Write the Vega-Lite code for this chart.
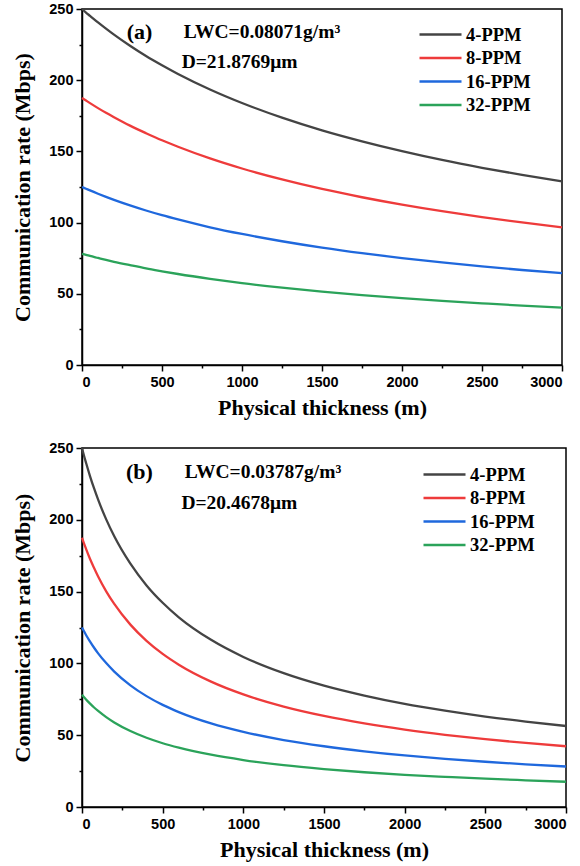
{
  "$schema": "https://vega.github.io/schema/vega-lite/v6.json",
  "padding": {"left": 11, "top": 0, "right": 0, "bottom": 0},
  "background": "white",
  "spacing": 19,
  "resolve": {"legend": {"color": "independent"}, "scale": {"color": "independent"}},
  "config": {
    "view": {"stroke": "black", "strokeWidth": 1.5},
    "axis": {
      "domainColor": "black", "domainWidth": 1.5, "tickColor": "black", "tickWidth": 1.5,
      "grid": false, "labelFont": "Liberation Sans", "labelFontWeight": "bold", "labelFontSize": 14.5,
      "labelColor": "black", "titleFont": "Liberation Serif", "titleFontWeight": "bold",
      "titleFontSize": 22, "titleColor": "black", "format": "d"
    },
    "legend": {
      "orient": "none", "symbolType": "M-2,0H2", "symbolSize": 441, "symbolFillColor": "transparent",
      "symbolStrokeWidth": 2.5, "labelFont": "Liberation Serif", "labelFontWeight": "bold",
      "labelFontSize": 18.5, "labelColor": "black", "labelOffset": 13.5, "rowPadding": 1.5, "padding": 0
    },
    "text": {"font": "Liberation Serif", "fontWeight": "bold", "fontSize": 19.5, "color": "black", "align": "left", "baseline": "middle"}
  },
  "datasets": {
    "a": [
      {"thickness": 0, "rate": 250, "scheme": "4-PPM"}, {"thickness": 25, "rate": 247.5, "scheme": "4-PPM"}, {"thickness": 50, "rate": 245.2, "scheme": "4-PPM"}, {"thickness": 100, "rate": 240.6, "scheme": "4-PPM"}, {"thickness": 150, "rate": 236.2, "scheme": "4-PPM"}, {"thickness": 200, "rate": 232.0, "scheme": "4-PPM"}, {"thickness": 300, "rate": 224.2, "scheme": "4-PPM"}, {"thickness": 400, "rate": 217.0, "scheme": "4-PPM"}, {"thickness": 500, "rate": 210.5, "scheme": "4-PPM"}, {"thickness": 600, "rate": 204.4, "scheme": "4-PPM"}, {"thickness": 800, "rate": 193.5, "scheme": "4-PPM"}, {"thickness": 1000, "rate": 184.0, "scheme": "4-PPM"}, {"thickness": 1250, "rate": 173.7, "scheme": "4-PPM"}, {"thickness": 1500, "rate": 164.8, "scheme": "4-PPM"}, {"thickness": 1750, "rate": 157.1, "scheme": "4-PPM"}, {"thickness": 2000, "rate": 150.2, "scheme": "4-PPM"}, {"thickness": 2250, "rate": 144.0, "scheme": "4-PPM"}, {"thickness": 2500, "rate": 138.5, "scheme": "4-PPM"}, {"thickness": 2750, "rate": 133.5, "scheme": "4-PPM"}, {"thickness": 3000, "rate": 128.9, "scheme": "4-PPM"},
      {"thickness": 0, "rate": 187.5, "scheme": "8-PPM"}, {"thickness": 25, "rate": 185.7, "scheme": "8-PPM"}, {"thickness": 50, "rate": 183.9, "scheme": "8-PPM"}, {"thickness": 100, "rate": 180.4, "scheme": "8-PPM"}, {"thickness": 150, "rate": 177.1, "scheme": "8-PPM"}, {"thickness": 200, "rate": 174.0, "scheme": "8-PPM"}, {"thickness": 300, "rate": 168.1, "scheme": "8-PPM"}, {"thickness": 400, "rate": 162.8, "scheme": "8-PPM"}, {"thickness": 500, "rate": 157.8, "scheme": "8-PPM"}, {"thickness": 600, "rate": 153.3, "scheme": "8-PPM"}, {"thickness": 800, "rate": 145.1, "scheme": "8-PPM"}, {"thickness": 1000, "rate": 138.0, "scheme": "8-PPM"}, {"thickness": 1250, "rate": 130.3, "scheme": "8-PPM"}, {"thickness": 1500, "rate": 123.6, "scheme": "8-PPM"}, {"thickness": 1750, "rate": 117.8, "scheme": "8-PPM"}, {"thickness": 2000, "rate": 112.6, "scheme": "8-PPM"}, {"thickness": 2250, "rate": 108.0, "scheme": "8-PPM"}, {"thickness": 2500, "rate": 103.9, "scheme": "8-PPM"}, {"thickness": 2750, "rate": 100.1, "scheme": "8-PPM"}, {"thickness": 3000, "rate": 96.7, "scheme": "8-PPM"},
      {"thickness": 0, "rate": 125, "scheme": "16-PPM"}, {"thickness": 25, "rate": 123.8, "scheme": "16-PPM"}, {"thickness": 50, "rate": 122.6, "scheme": "16-PPM"}, {"thickness": 100, "rate": 120.3, "scheme": "16-PPM"}, {"thickness": 150, "rate": 118.1, "scheme": "16-PPM"}, {"thickness": 200, "rate": 116.0, "scheme": "16-PPM"}, {"thickness": 300, "rate": 112.1, "scheme": "16-PPM"}, {"thickness": 400, "rate": 108.5, "scheme": "16-PPM"}, {"thickness": 500, "rate": 105.2, "scheme": "16-PPM"}, {"thickness": 600, "rate": 102.2, "scheme": "16-PPM"}, {"thickness": 800, "rate": 96.7, "scheme": "16-PPM"}, {"thickness": 1000, "rate": 92.0, "scheme": "16-PPM"}, {"thickness": 1250, "rate": 86.9, "scheme": "16-PPM"}, {"thickness": 1500, "rate": 82.4, "scheme": "16-PPM"}, {"thickness": 1750, "rate": 78.5, "scheme": "16-PPM"}, {"thickness": 2000, "rate": 75.1, "scheme": "16-PPM"}, {"thickness": 2250, "rate": 72.0, "scheme": "16-PPM"}, {"thickness": 2500, "rate": 69.2, "scheme": "16-PPM"}, {"thickness": 2750, "rate": 66.7, "scheme": "16-PPM"}, {"thickness": 3000, "rate": 64.5, "scheme": "16-PPM"},
      {"thickness": 0, "rate": 78.1, "scheme": "32-PPM"}, {"thickness": 25, "rate": 77.4, "scheme": "32-PPM"}, {"thickness": 50, "rate": 76.6, "scheme": "32-PPM"}, {"thickness": 100, "rate": 75.2, "scheme": "32-PPM"}, {"thickness": 150, "rate": 73.8, "scheme": "32-PPM"}, {"thickness": 200, "rate": 72.5, "scheme": "32-PPM"}, {"thickness": 300, "rate": 70.1, "scheme": "32-PPM"}, {"thickness": 400, "rate": 67.8, "scheme": "32-PPM"}, {"thickness": 500, "rate": 65.8, "scheme": "32-PPM"}, {"thickness": 600, "rate": 63.9, "scheme": "32-PPM"}, {"thickness": 800, "rate": 60.5, "scheme": "32-PPM"}, {"thickness": 1000, "rate": 57.5, "scheme": "32-PPM"}, {"thickness": 1250, "rate": 54.3, "scheme": "32-PPM"}, {"thickness": 1500, "rate": 51.5, "scheme": "32-PPM"}, {"thickness": 1750, "rate": 49.1, "scheme": "32-PPM"}, {"thickness": 2000, "rate": 46.9, "scheme": "32-PPM"}, {"thickness": 2250, "rate": 45.0, "scheme": "32-PPM"}, {"thickness": 2500, "rate": 43.3, "scheme": "32-PPM"}, {"thickness": 2750, "rate": 41.7, "scheme": "32-PPM"}, {"thickness": 3000, "rate": 40.3, "scheme": "32-PPM"}
    ],
    "b": [
      {"thickness": 0, "rate": 250, "scheme": "4-PPM"}, {"thickness": 10, "rate": 245.7, "scheme": "4-PPM"}, {"thickness": 25, "rate": 239.7, "scheme": "4-PPM"}, {"thickness": 50, "rate": 230.3, "scheme": "4-PPM"}, {"thickness": 75, "rate": 221.8, "scheme": "4-PPM"}, {"thickness": 100, "rate": 214.0, "scheme": "4-PPM"}, {"thickness": 150, "rate": 200.3, "scheme": "4-PPM"}, {"thickness": 200, "rate": 188.5, "scheme": "4-PPM"}, {"thickness": 300, "rate": 169.4, "scheme": "4-PPM"}, {"thickness": 400, "rate": 154.3, "scheme": "4-PPM"}, {"thickness": 500, "rate": 142.2, "scheme": "4-PPM"}, {"thickness": 600, "rate": 132.1, "scheme": "4-PPM"}, {"thickness": 800, "rate": 116.4, "scheme": "4-PPM"}, {"thickness": 1000, "rate": 104.5, "scheme": "4-PPM"}, {"thickness": 1250, "rate": 93.2, "scheme": "4-PPM"}, {"thickness": 1500, "rate": 84.5, "scheme": "4-PPM"}, {"thickness": 1750, "rate": 77.6, "scheme": "4-PPM"}, {"thickness": 2000, "rate": 71.8, "scheme": "4-PPM"}, {"thickness": 2250, "rate": 67.1, "scheme": "4-PPM"}, {"thickness": 2500, "rate": 63.0, "scheme": "4-PPM"}, {"thickness": 2750, "rate": 59.5, "scheme": "4-PPM"}, {"thickness": 3000, "rate": 56.4, "scheme": "4-PPM"},
      {"thickness": 0, "rate": 187.5, "scheme": "8-PPM"}, {"thickness": 10, "rate": 184.3, "scheme": "8-PPM"}, {"thickness": 25, "rate": 179.8, "scheme": "8-PPM"}, {"thickness": 50, "rate": 172.7, "scheme": "8-PPM"}, {"thickness": 75, "rate": 166.4, "scheme": "8-PPM"}, {"thickness": 100, "rate": 160.5, "scheme": "8-PPM"}, {"thickness": 150, "rate": 150.2, "scheme": "8-PPM"}, {"thickness": 200, "rate": 141.4, "scheme": "8-PPM"}, {"thickness": 300, "rate": 127.0, "scheme": "8-PPM"}, {"thickness": 400, "rate": 115.7, "scheme": "8-PPM"}, {"thickness": 500, "rate": 106.6, "scheme": "8-PPM"}, {"thickness": 600, "rate": 99.1, "scheme": "8-PPM"}, {"thickness": 800, "rate": 87.3, "scheme": "8-PPM"}, {"thickness": 1000, "rate": 78.4, "scheme": "8-PPM"}, {"thickness": 1250, "rate": 69.9, "scheme": "8-PPM"}, {"thickness": 1500, "rate": 63.4, "scheme": "8-PPM"}, {"thickness": 1750, "rate": 58.2, "scheme": "8-PPM"}, {"thickness": 2000, "rate": 53.9, "scheme": "8-PPM"}, {"thickness": 2250, "rate": 50.3, "scheme": "8-PPM"}, {"thickness": 2500, "rate": 47.2, "scheme": "8-PPM"}, {"thickness": 2750, "rate": 44.6, "scheme": "8-PPM"}, {"thickness": 3000, "rate": 42.3, "scheme": "8-PPM"},
      {"thickness": 0, "rate": 125, "scheme": "16-PPM"}, {"thickness": 10, "rate": 122.9, "scheme": "16-PPM"}, {"thickness": 25, "rate": 119.8, "scheme": "16-PPM"}, {"thickness": 50, "rate": 115.2, "scheme": "16-PPM"}, {"thickness": 75, "rate": 110.9, "scheme": "16-PPM"}, {"thickness": 100, "rate": 107.0, "scheme": "16-PPM"}, {"thickness": 150, "rate": 100.2, "scheme": "16-PPM"}, {"thickness": 200, "rate": 94.3, "scheme": "16-PPM"}, {"thickness": 300, "rate": 84.7, "scheme": "16-PPM"}, {"thickness": 400, "rate": 77.2, "scheme": "16-PPM"}, {"thickness": 500, "rate": 71.1, "scheme": "16-PPM"}, {"thickness": 600, "rate": 66.1, "scheme": "16-PPM"}, {"thickness": 800, "rate": 58.2, "scheme": "16-PPM"}, {"thickness": 1000, "rate": 52.3, "scheme": "16-PPM"}, {"thickness": 1250, "rate": 46.6, "scheme": "16-PPM"}, {"thickness": 1500, "rate": 42.3, "scheme": "16-PPM"}, {"thickness": 1750, "rate": 38.8, "scheme": "16-PPM"}, {"thickness": 2000, "rate": 35.9, "scheme": "16-PPM"}, {"thickness": 2250, "rate": 33.5, "scheme": "16-PPM"}, {"thickness": 2500, "rate": 31.5, "scheme": "16-PPM"}, {"thickness": 2750, "rate": 29.7, "scheme": "16-PPM"}, {"thickness": 3000, "rate": 28.2, "scheme": "16-PPM"},
      {"thickness": 0, "rate": 78.1, "scheme": "32-PPM"}, {"thickness": 10, "rate": 76.8, "scheme": "32-PPM"}, {"thickness": 25, "rate": 74.9, "scheme": "32-PPM"}, {"thickness": 50, "rate": 72.0, "scheme": "32-PPM"}, {"thickness": 75, "rate": 69.3, "scheme": "32-PPM"}, {"thickness": 100, "rate": 66.9, "scheme": "32-PPM"}, {"thickness": 150, "rate": 62.6, "scheme": "32-PPM"}, {"thickness": 200, "rate": 58.9, "scheme": "32-PPM"}, {"thickness": 300, "rate": 52.9, "scheme": "32-PPM"}, {"thickness": 400, "rate": 48.2, "scheme": "32-PPM"}, {"thickness": 500, "rate": 44.4, "scheme": "32-PPM"}, {"thickness": 600, "rate": 41.3, "scheme": "32-PPM"}, {"thickness": 800, "rate": 36.4, "scheme": "32-PPM"}, {"thickness": 1000, "rate": 32.7, "scheme": "32-PPM"}, {"thickness": 1250, "rate": 29.1, "scheme": "32-PPM"}, {"thickness": 1500, "rate": 26.4, "scheme": "32-PPM"}, {"thickness": 1750, "rate": 24.2, "scheme": "32-PPM"}, {"thickness": 2000, "rate": 22.4, "scheme": "32-PPM"}, {"thickness": 2250, "rate": 21.0, "scheme": "32-PPM"}, {"thickness": 2500, "rate": 19.7, "scheme": "32-PPM"}, {"thickness": 2750, "rate": 18.6, "scheme": "32-PPM"}, {"thickness": 3000, "rate": 17.6, "scheme": "32-PPM"}
    ]
  },
  "vconcat": [
    {
      "width": 480, "height": 356,
      "resolve": {"axis": {"x": "independent", "y": "independent"}},
      "layer": [
        {
          "data": {"name": "a"},
          "mark": {"type": "line", "strokeWidth": 2.3, "interpolate": "monotone"},
          "encoding": {
            "x": {"field": "thickness", "type": "quantitative", "scale": {"domain": [0, 3000], "nice": false},
                  "axis": {"orient": "bottom", "values": [0, 500, 1000, 1500, 2000, 2500, 3000], "tickSize": 6, "labelPadding": 4, "title": "Physical thickness (m)", "titlePadding": 9}},
            "y": {"field": "rate", "type": "quantitative", "scale": {"domain": [0, 250], "nice": false},
                  "axis": {"orient": "left", "values": [0, 50, 100, 150, 200, 250], "tickSize": 6, "labelPadding": 3, "title": "Communication rate (Mbps)", "titlePadding": 14}},
            "color": {"field": "scheme", "type": "nominal",
                      "scale": {"domain": ["4-PPM", "8-PPM", "16-PPM", "32-PPM"], "range": ["#444444", "#EE3B3B", "#1F68DD", "#2BA35A"]},
                      "legend": {"title": null, "legendX": 346.5, "legendY": 13.5}}
          }
        },
        {
          "data": {"values": [{}]},
          "mark": {"type": "text", "fontSize": 22},
          "encoding": {
            "x": {"datum": 279, "type": "quantitative", "axis": {"orient": "bottom", "values": [250, 750, 1250, 1750, 2250, 2750], "labels": false, "tickSize": 3, "domain": false, "title": null}},
            "y": {"datum": 233.7, "type": "quantitative", "axis": {"orient": "left", "values": [25, 75, 125, 175, 225], "labels": false, "tickSize": 3, "domain": false, "title": null}},
            "text": {"value": "(a)"}
          }
        },
        {
          "data": {"values": [{}]},
          "mark": {"type": "text"},
          "encoding": {
            "x": {"datum": 636, "type": "quantitative", "axis": null},
            "y": {"datum": 233.7, "type": "quantitative", "axis": null},
            "text": {"value": "LWC=0.08071g/m³"}
          }
        },
        {
          "data": {"values": [{}]},
          "mark": {"type": "text"},
          "encoding": {
            "x": {"datum": 623, "type": "quantitative", "axis": null},
            "y": {"datum": 212.6, "type": "quantitative", "axis": null},
            "text": {"value": "D=21.8769μm"}
          }
        }
      ]
    },
    {
      "width": 484, "height": 359,
      "resolve": {"axis": {"x": "independent", "y": "independent"}},
      "layer": [
        {
          "data": {"name": "b"},
          "mark": {"type": "line", "strokeWidth": 2.3, "interpolate": "monotone"},
          "encoding": {
            "x": {"field": "thickness", "type": "quantitative", "scale": {"domain": [0, 3000], "nice": false},
                  "axis": {"orient": "bottom", "values": [0, 500, 1000, 1500, 2000, 2500, 3000], "tickSize": 6, "labelPadding": 4, "title": "Physical thickness (m)", "titlePadding": 9}},
            "y": {"field": "rate", "type": "quantitative", "scale": {"domain": [0, 250], "nice": false},
                  "axis": {"orient": "left", "values": [0, 50, 100, 150, 200, 250], "tickSize": 6, "labelPadding": 3, "title": "Communication rate (Mbps)", "titlePadding": 14}},
            "color": {"field": "scheme", "type": "nominal",
                      "scale": {"domain": ["4-PPM", "8-PPM", "16-PPM", "32-PPM"], "range": ["#444444", "#EE3B3B", "#1F68DD", "#2BA35A"]},
                      "legend": {"title": null, "legendX": 350.5, "legendY": 14.5}}
          }
        },
        {
          "data": {"values": [{}]},
          "mark": {"type": "text", "fontSize": 22},
          "encoding": {
            "x": {"datum": 273, "type": "quantitative", "axis": {"orient": "bottom", "values": [250, 750, 1250, 1750, 2250, 2750], "labels": false, "tickSize": 3, "domain": false, "title": null}},
            "y": {"datum": 233, "type": "quantitative", "axis": {"orient": "left", "values": [25, 75, 125, 175, 225], "labels": false, "tickSize": 3, "domain": false, "title": null}},
            "text": {"value": "(b)"}
          }
        },
        {
          "data": {"values": [{}]},
          "mark": {"type": "text"},
          "encoding": {
            "x": {"datum": 637, "type": "quantitative", "axis": null},
            "y": {"datum": 233, "type": "quantitative", "axis": null},
            "text": {"value": "LWC=0.03787g/m³"}
          }
        },
        {
          "data": {"values": [{}]},
          "mark": {"type": "text"},
          "encoding": {
            "x": {"datum": 616, "type": "quantitative", "axis": null},
            "y": {"datum": 212, "type": "quantitative", "axis": null},
            "text": {"value": "D=20.4678μm"}
          }
        }
      ]
    }
  ]
}
